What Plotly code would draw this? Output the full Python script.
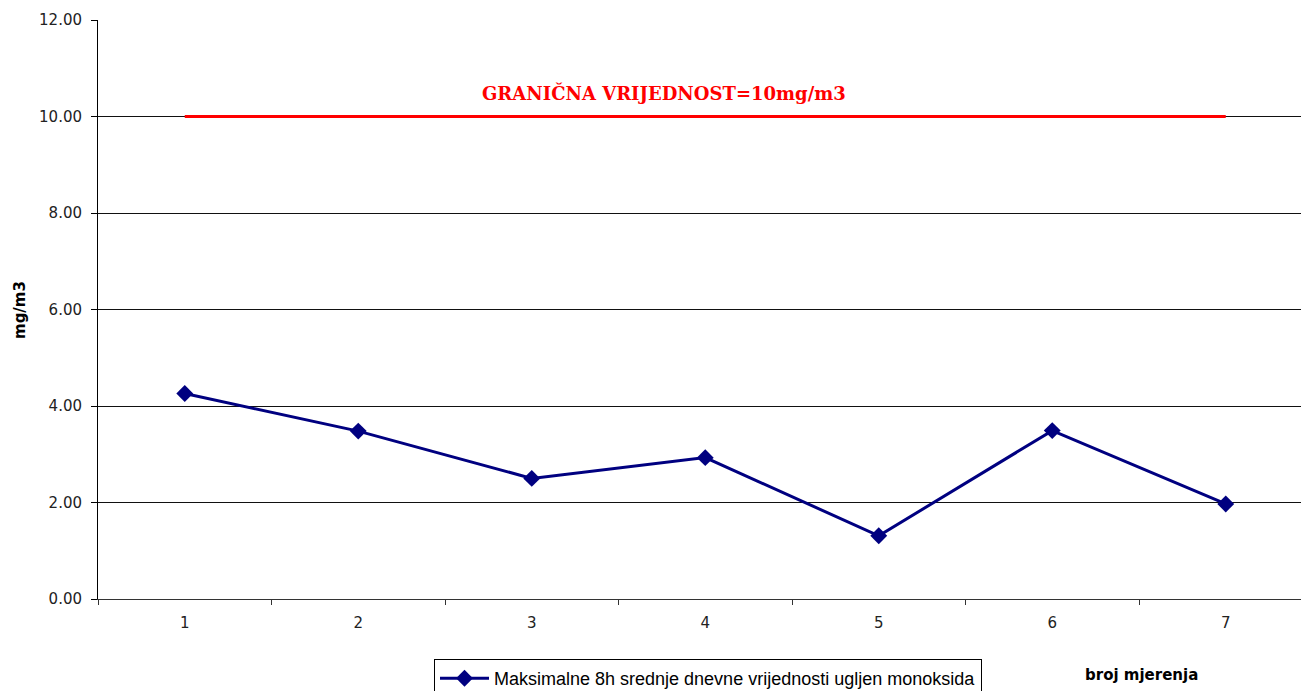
import plotly.graph_objects as go

categories = ["1", "2", "3", "4", "5", "6", "7"]
co_values = [4.26, 3.48, 2.50, 2.93, 1.31, 3.49, 1.97]
limit_values = [10, 10, 10, 10, 10, 10, 10]
y_ticks = [0, 2, 4, 6, 8, 10, 12]

series_name = "Maksimalne 8h srednje dnevne vrijednosti ugljen monoksida"
limit_label = "GRANIČNA VRIJEDNOST=10mg/m3"
x_title = "broj mjerenja"
y_title = "mg/m3"

L, T, PW, PH = 98, 20, 1215, 579
CAT_PX = 173.5
W, H = L + PW, 698
B = H - T - PH

fig = go.Figure()

fig.add_trace(go.Scatter(
    x=categories, y=limit_values, mode="lines",
    line=dict(color="#ff0000", width=3),
    showlegend=False, hoverinfo="skip",
))

fig.add_trace(go.Scatter(
    x=categories, y=co_values, mode="lines+markers",
    name=series_name,
    line=dict(color="#000080", width=3),
    marker=dict(symbol="diamond", size=13, color="#000080"),
))

fig.add_annotation(
    x=(664 - L) / PW, y=10.49, xref="paper", yref="y",
    text="<b>" + limit_label + "</b>", showarrow=False,
    xanchor="center", yanchor="middle",
    font=dict(family="DejaVu Serif, Liberation Serif, serif", size=18, color="#ff0000"),
)

fig.add_annotation(
    x=(1141 - L) / PW, y=-(675 - (T + PH)) / PH, xref="paper", yref="paper",
    text="<b>" + x_title + "</b>", showarrow=False,
    xanchor="center", yanchor="middle",
    font=dict(family="DejaVu Sans, sans-serif", size=15, color="#000000"),
)

fig.add_annotation(
    x=(20 - L) / PW, y=1 - (310 - T) / PH, xref="paper", yref="paper",
    text="<b>" + y_title + "</b>", showarrow=False, textangle=-90,
    xanchor="center", yanchor="middle",
    font=dict(family="DejaVu Sans, sans-serif", size=15, color="#000000"),
)

fig.update_layout(
    width=W, height=H,
    margin=dict(l=L, r=0, t=T, b=B),
    paper_bgcolor="white", plot_bgcolor="white",
    font=dict(family="DejaVu Sans, sans-serif", size=15, color="#222222"),
    legend=dict(
        orientation="h",
        x=(434 - L) / PW, xanchor="left",
        y=-B / PH, yanchor="bottom",
        bordercolor="#000000", borderwidth=1,
        bgcolor="white",
        font=dict(family="Liberation Sans, Arial, sans-serif", size=18, color="#000000"),
        itemwidth=49,
    ),
    xaxis=dict(
        type="category",
        range=[-0.5, -0.5 + PW / CAT_PX],
        tickson="boundaries",
        ticks="outside", ticklen=5, tickcolor="#333333",
        showline=True, linecolor="#333333", linewidth=1,
        showgrid=False, zeroline=False,
        ticklabelstandoff=10,
        tickfont=dict(family="DejaVu Sans, sans-serif", size=15, color="#222222"),
        fixedrange=True,
    ),
    yaxis=dict(
        range=[0, 12],
        tickvals=y_ticks,
        tickformat=".2f",
        ticks="outside", ticklen=6, tickcolor="#000000",
        showline=True, linecolor="#000000", linewidth=1,
        showgrid=True, gridcolor="#111111", gridwidth=1,
        zeroline=False,
        ticklabelstandoff=6,
        tickfont=dict(family="DejaVu Sans, sans-serif", size=15, color="#222222"),
    ),
)

fig.write_html(
    "out.html",
    config={"displayModeBar": False},
    post_script="document.body.style.margin='0';document.body.style.overflow='hidden';",
)
